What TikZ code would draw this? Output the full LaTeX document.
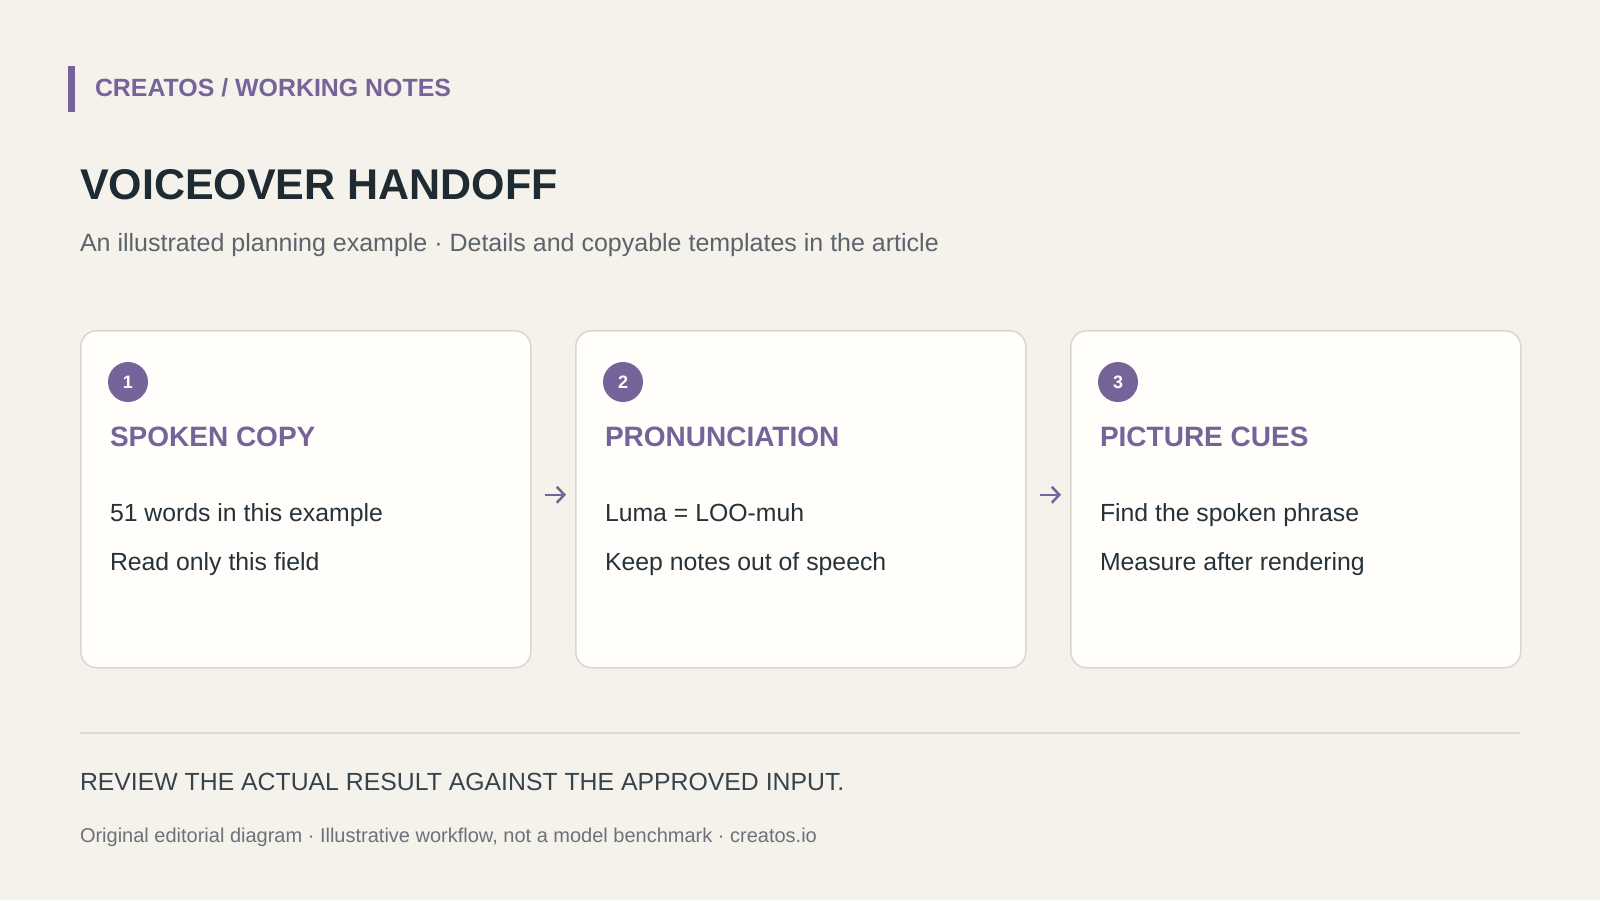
\documentclass[tikz,border=0pt]{standalone}
\usepackage{fontspec}
\setmainfont{Liberation Sans}
\usetikzlibrary{arrows.meta}
\definecolor{bgc}{HTML}{F5F2EC}
\definecolor{cardfill}{HTML}{FFFEFA}
\definecolor{cardline}{HTML}{DAD7D0}
\definecolor{purp}{HTML}{75639A}
\definecolor{titlec}{HTML}{1F2B33}
\definecolor{subc}{HTML}{5B646B}
\definecolor{bodyc}{HTML}{26323A}
\definecolor{reviewc}{HTML}{36434B}
\definecolor{footc}{HTML}{6C7277}
\definecolor{rulec}{HTML}{DEDBD5}
\newcommand{\fs}[1]{\fontsize{#1}{#1}\selectfont}
\tikzset{
  txt/.style={anchor=base west, inner sep=0pt, outer sep=0pt},
  card/.style={draw=cardline, line width=1.5pt, fill=cardfill, rounded corners=16pt,
    anchor=north west, minimum width=450pt, minimum height=337pt, inner sep=0pt},
  badge/.style={circle, fill=purp, minimum size=40pt, inner sep=0pt, text=white,
    font=\fs{18}\bfseries},
  head/.style={txt, text=purp, font=\fs{28}\bfseries},
  body/.style={txt, text=bodyc, font=\fs{24.8}},
  flow/.style={draw=purp, line width=2.5pt, -{Straight Barb[length=7.5pt,width=16pt,line width=2.5pt]},
    shorten <=13pt, shorten >=9pt},
}
\begin{document}
\begin{tikzpicture}[x=1pt,y=-1pt]
\fill[bgc] (0,0) rectangle (1600,900);
\useasboundingbox (0,0) rectangle (1600,900);

% header
\fill[purp] (68,66) rectangle (75,112);
\node[txt, text=purp, font=\fs{24.9}\bfseries] (kicker) at (95,96) {CREATOS / WORKING NOTES};
\node[txt, text=titlec, font=\fs{43}\bfseries] (title) at (80,199) {VOICEOVER HANDOFF};
\node[txt, text=subc, font=\fs{25}] (sub) at (80,251) {An illustrated planning example · Details and copyable templates in the article};

% cards
\node[card] (c1) at (80,330) {};
\node[card] (c2) at (575,330) {};
\node[card] (c3) at (1070,330) {};

\node[badge] (b1) at (128,382) {1};
\node[badge] (b2) at (623,382) {2};
\node[badge] (b3) at (1118,382) {3};

\node[head] (h1) at (110,446.5) {SPOKEN COPY};
\node[head] (h2) at (605,446.5) {PRONUNCIATION};
\node[head] (h3) at (1100,446.5) {PICTURE CUES};

\node[body] (t1a) at (110,521) {51 words in this example};
\node[body] (t1b) at (110,570) {Read only this field};
\node[body] (t2a) at (605,521) {Luma = LOO-muh};
\node[body] (t2b) at (605,570) {Keep notes out of speech};
\node[body] (t3a) at (1100,521) {Find the spoken phrase};
\node[body] (t3b) at (1100,570) {Measure after rendering};

\draw[flow] ([yshift=4.5pt]c1.east) -- ([yshift=4.5pt]c2.west);
\draw[flow] ([yshift=4.5pt]c2.east) -- ([yshift=4.5pt]c3.west);

% footer
\coordinate (rl) at (80,732.5);
\coordinate (rr) at (1520,732.5);
\draw[rulec, line width=2pt] (rl) -- (rr);
\node[txt, text=reviewc, font=\fs{24.8}] (review) at (80,790) {REVIEW THE ACTUAL RESULT AGAINST THE APPROVED INPUT.};
\node[txt, text=footc, font=\fs{20}] (foot) at (80,842) {Original editorial diagram · Illustrative workflow, not a model benchmark · creatos.io};
\end{tikzpicture}
\end{document}
